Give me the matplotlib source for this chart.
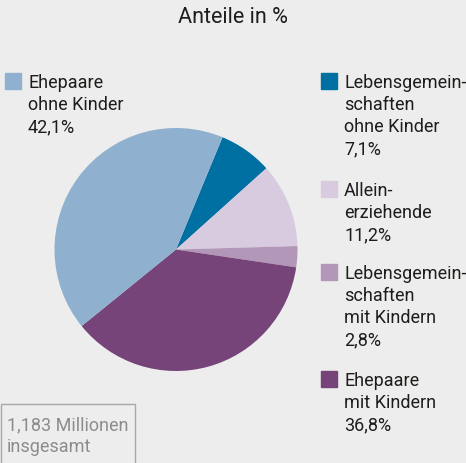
import matplotlib
matplotlib.use("Agg")
import matplotlib.pyplot as plt
from matplotlib.patches import Rectangle

plt.rcParams['font.family'] = ['Roboto', 'DejaVu Sans']

# slices, clockwise starting from the dark blue one
labels = ["Lebensgemein-\nschaften\nohne Kinder", "Allein-\nerziehende",
          "Lebensgemein-\nschaften\nmit Kindern", "Ehepaare\nmit Kindern",
          "Ehepaare\nohne Kinder"]
shares = [7.1, 11.2, 2.8, 36.8, 42.1]
share_text = ["7,1%", "11,2%", "2,8%", "36,8%", "42,1%"]
colors = ["#0070a3", "#d8cadf", "#b297b8", "#764478", "#8fb1cf"]

title = "Anteile in %"
total_text = "1,183 Millionen\ninsgesamt"

W, H = 466, 464
bg = "#ecedec"
txt = "#1d1d1b"
step = 22  # px between text lines

fig = plt.figure(figsize=(W / 100, H / 100), dpi=100, facecolor=bg)

def fx(px):
    return px / W

def fy(py):
    return 1 - py / H

def lines(x, y0, s, **kw):
    for i, ln in enumerate(s.split("\n")):
        fig.text(fx(x), fy(y0 + i * step), ln, ha='left', va='baseline',
                 fontsize=13, **kw)

# pie: centre ~ (176, 250.5), radius ~121.5 px
r = 121.5
ax = fig.add_axes([fx(176 - r), fy(250.5 + r), 2 * r / W, 2 * r / H])
ax.pie(shares, colors=colors, startangle=67.5, counterclock=False,
       wedgeprops=dict(linewidth=0))
ax.set_xlim(-1, 1)
ax.set_ylim(-1, 1)
ax.set_aspect('equal')
ax.axis('off')

fig.text(fx(232.5), fy(23), title, ha='center', va='baseline', fontsize=15.5,
         color=txt)

# legend entries: (square x, square top y)
spots = [(321, 74), (321, 182), (321, 265), (321, 372), (5, 74)]
for (sx, sy), lab, st, c in zip(spots, labels, share_text, colors):
    fig.patches.append(Rectangle((fx(sx), fy(sy + 16)), 16 / W, 16 / H,
                                 transform=fig.transFigure, color=c))
    lines(sx + 23, sy + 14, lab + "\n" + st, color=txt)

# total box
fig.patches.append(Rectangle((fx(0.5), fy(470)), 134 / W, 65 / H,
                             transform=fig.transFigure, fill=False,
                             edgecolor="#a8a8a8", linewidth=1))
lines(7, 430, total_text, color="#8c8c8c")

fig.savefig("out.png", dpi=100, facecolor=bg)
